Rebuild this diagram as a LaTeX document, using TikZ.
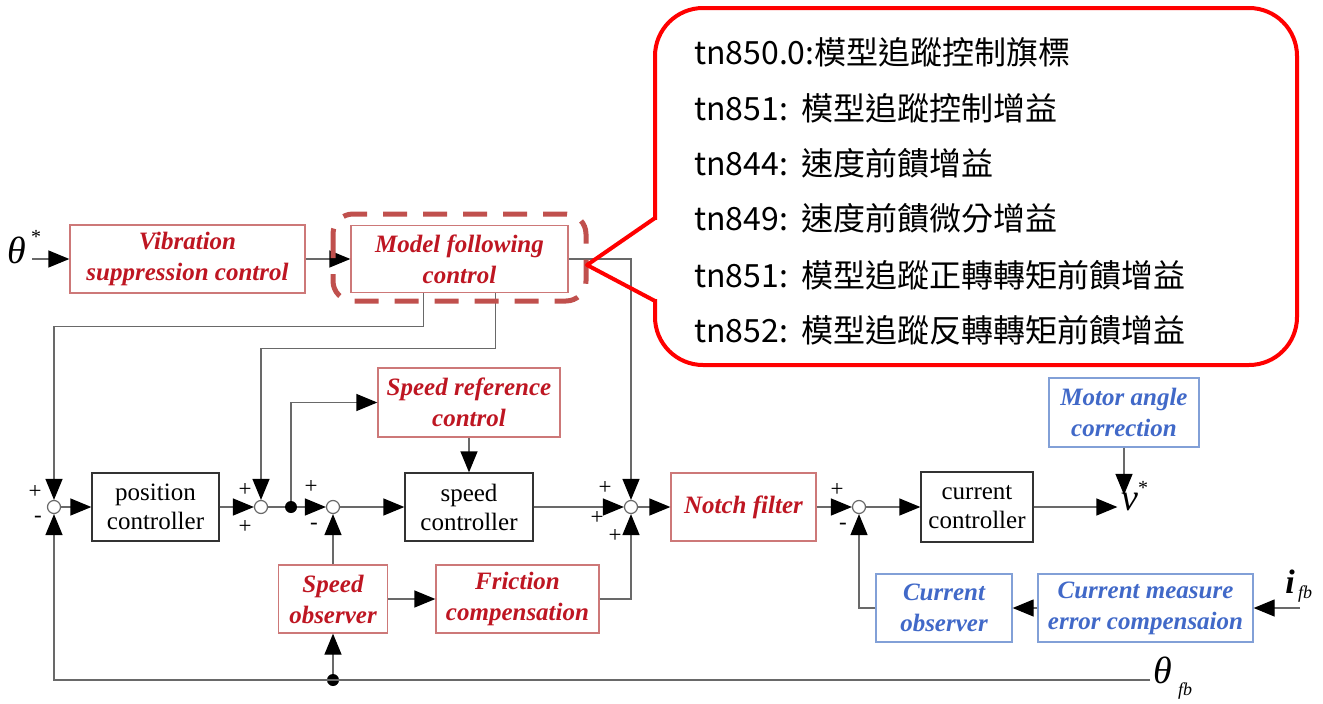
\documentclass[tikz,border=0pt]{standalone}
\usepackage{fontspec}
\setmainfont{Liberation Serif}
\newfontfamily\cjk{Noto Sans CJK TC}
\usetikzlibrary{arrows.meta}
\definecolor{redtxt}{RGB}{190,22,34}
\definecolor{redbd}{RGB}{205,120,120}
\definecolor{bluetxt}{RGB}{65,105,200}
\definecolor{bluebd}{RGB}{130,160,215}
\definecolor{lnc}{RGB}{105,105,105}
\definecolor{dashc}{RGB}{192,80,77}
\definecolor{callred}{RGB}{255,0,0}
\begin{document}
\begin{tikzpicture}[x=1pt,y=-1pt,
  box/.style={draw, line width=1.3pt, inner sep=0pt, align=center},
  rbox/.style={box, draw=redbd, text=redtxt, font=\fontsize{25}{31}\selectfont\bfseries\itshape},
  bbox/.style={box, draw=bluebd, text=bluetxt, font=\fontsize{25}{31}\selectfont\bfseries\itshape},
  kbox/.style={box, draw=black!80, text=black, font=\fontsize{25}{29}\selectfont},
  sumj/.style={circle, draw=lnc, fill=white, line width=1.2pt, minimum size=13pt, inner sep=0pt},
  jdot/.style={circle, fill=black, minimum size=12pt, inner sep=0pt},
  conn/.style={draw=lnc, line width=1.3pt},
  arr/.style={conn, -{Triangle[length=21pt,width=17pt,color=black,fill=black]}},
  sgn/.style={font=\fontsize{23}{23}\selectfont, inner sep=0pt},
  cjkline/.style={anchor=base west, inner sep=0pt, font=\cjk\fontsize{32}{32}\selectfont}
]
\useasboundingbox (0,0) rectangle (1323,704);

% blocks
\node[rbox, minimum width=235pt, minimum height=68pt] (vsc) at (187.5,259) {Vibration\\suppression control};
\node[rbox, minimum width=217pt, minimum height=67pt] (mfc) at (459.5,259) {Model following\\control};
\node[kbox, minimum width=127pt, minimum height=68pt] (pos) at (155.5,507) {position\\controller};
\node[kbox, minimum width=128pt, minimum height=68pt] (spc) at (469,507) {speed\\controller};
\node[rbox, minimum width=182pt, minimum height=69pt] (src) at (469,402.5) {Speed reference\\control};
\node[rbox, minimum width=145pt, minimum height=68pt] (notch) at (743.5,507) {Notch filter};
\node[kbox, minimum width=112pt, minimum height=70pt] (cc) at (977,507) {current\\controller};
\node[bbox, minimum width=150pt, minimum height=69pt] (mac) at (1124,412.5) {Motor angle\\correction};
\node[rbox, minimum width=109pt, minimum height=68pt] (so) at (333,599) {Speed\\observer};
\node[rbox, minimum width=163pt, minimum height=68pt] (fc) at (517.5,599) {Friction\\compensation};
\node[bbox, minimum width=136pt, minimum height=68pt] (co) at (944,608) {Current\\observer};
\node[bbox, minimum width=215pt, minimum height=68pt] (cmec) at (1145.5,608) {Current measure\\error compensaion};

% junctions
\node[sumj] (s1) at (54,507) {};
\node[sumj] (s2) at (261,507) {};
\node[sumj] (s3) at (333,507) {};
\node[sumj] (s4) at (631,507) {};
\node[sumj] (s5) at (859,507) {};
\node[jdot] (dot1) at (291,507) {};
\node[jdot] (dot2) at (333,680) {};

% signals
\node[inner sep=0pt] (th) at (17,250) {\fontsize{38}{38}\selectfont\itshape θ};
\node[inner sep=0pt] (thst) at (36,237) {\fontsize{20}{20}\selectfont *};
\node[inner sep=0pt] (vv) at (1130,502) {\fontsize{38}{38}\selectfont\itshape v};
\node[inner sep=0pt] (vst) at (1143,488) {\fontsize{20}{20}\selectfont *};
\node[inner sep=0pt] (ifb) at (1290,582) {\fontsize{34}{34}\selectfont\bfseries\itshape i};
\node[inner sep=0pt] (ifbs) at (1305,594) {\fontsize{18}{18}\selectfont\itshape fb};
\node[inner sep=0pt] (thfb) at (1163,670) {\fontsize{38}{38}\selectfont\itshape θ};
\node[inner sep=0pt] (thfbs) at (1185,691) {\fontsize{18}{18}\selectfont\itshape fb};
\coordinate (in) at (32,259);
\coordinate (fbend) at (1150,680);
\coordinate (ifbin) at (1300,608);
\coordinate (m1) at ([xshift=-36pt]mfc.south);
\coordinate (m2) at ([xshift=36pt]mfc.south);

% signs
\node[sgn] (p1) at (35,492) {+};
\node[sgn] (p2) at (38,519) {-};
\node[sgn] (p3) at (245,490) {+};
\node[sgn] (p4) at (245,527) {+};
\node[sgn] (p5) at (311,487) {+};
\node[sgn] (p6) at (314,526) {-};
\node[sgn] (p7) at (605,488) {+};
\node[sgn] (p8) at (597,518) {+};
\node[sgn] (p9) at (615,536) {+};
\node[sgn] (p10) at (837,490) {+};
\node[sgn] (p11) at (843,526) {-};

% connectors
\draw[arr] (in) -- (vsc.west);
\draw[arr] (vsc.east) -- (mfc.west);
\draw[arr] (m1) -- ++(0,33) -| (s1);
\draw[arr] (m2) -- ++(0,55) -| (s2);
\draw[arr] (mfc.east) -| (s4);
\draw[arr] (s1) -- (pos.west);
\draw[arr] (pos.east) -- (s2);
\draw[conn] (s2) -- (dot1);
\draw[arr] (dot1) -- (s3);
\draw[arr] (dot1) |- (src.west);
\draw[arr] (s3) -- (spc.west);
\draw[arr] (src.south) -- (spc.north);
\draw[arr] (spc.east) -- (s4);
\draw[arr] (s4) -- (notch.west);
\draw[arr] (notch.east) -- (s5);
\draw[arr] (s5) -- (cc.west);
\draw[arr] (cc.east) -- ([xshift=-4pt]cc.east -| vv.west);
\draw[arr] (mac.south) -- ([yshift=-2pt]mac.south |- vv.north);
\draw[arr] (so.north) -- (s3);
\draw[arr] (so.east) -- (fc.west);
\draw[arr] (fc.east) -| (s4);
\draw[arr] (fbend) -| (s1);
\draw[arr] (dot2) -- (so.south);
\draw[arr] (ifbin) -- (cmec.east);
\draw[arr] (cmec.west) -- (co.east);
\draw[arr] (co.west) -| (s5);

% highlight
\draw[dashc, line width=5pt, rounded corners=20pt, dash pattern=on 24pt off 16pt] (333,214) rectangle (586,301);

% callout
\draw[callred, line width=4pt, fill=white, rounded corners=48pt] (655,8) rectangle (1297,365);
\fill[white] (650,220) rectangle (660,299);
\draw[callred, line width=4pt, line join=round, line cap=round] (655,218) -- (587,265) -- (655,301);
\node[cjkline] (t1) at (694,64) {tn850.0:模型追蹤控制旗標};
\node[cjkline] (t2) at (694,120) {tn851:\hspace{14pt}模型追蹤控制增益};
\node[cjkline] (t3) at (694,175) {tn844:\hspace{14pt}速度前饋增益};
\node[cjkline] (t4) at (694,230) {tn849:\hspace{14pt}速度前饋微分增益};
\node[cjkline] (t5) at (694,287) {tn851:\hspace{14pt}模型追蹤正轉轉矩前饋增益};
\node[cjkline] (t6) at (694,342) {tn852:\hspace{14pt}模型追蹤反轉轉矩前饋增益};
\end{tikzpicture}
\end{document}
